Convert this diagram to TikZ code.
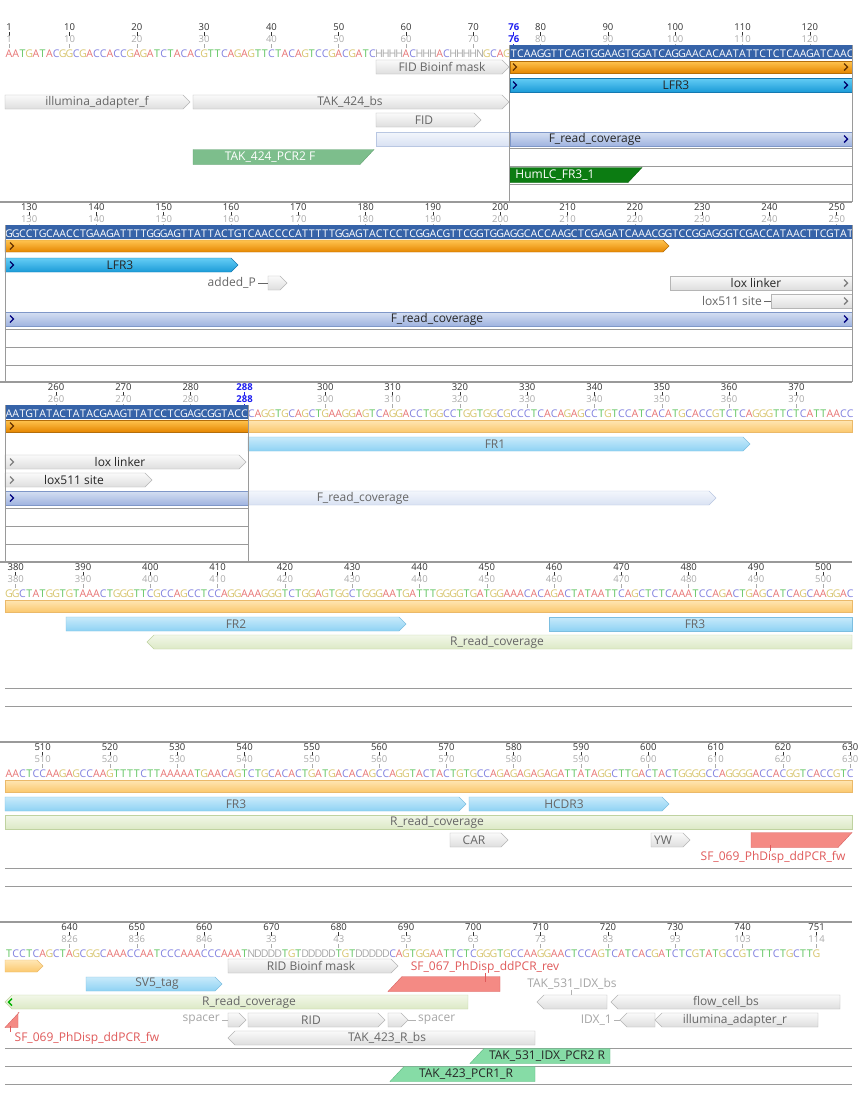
\documentclass[tikz,border=0pt]{standalone}
\usepackage{fontspec}
\setmainfont{Open Sans}
\definecolor{bA}{HTML}{E87474}
\definecolor{bT}{HTML}{5EC45E}
\definecolor{bC}{HTML}{8282E0}
\definecolor{bG}{HTML}{D8C670}
\definecolor{bN}{HTML}{A8A8A8}
\definecolor{selblue}{HTML}{3663A8}
\definecolor{rulnum}{HTML}{333333}
\definecolor{rultwo}{HTML}{AAAAAA}
\definecolor{markblue}{HTML}{1E1EF0}
\definecolor{grline}{HTML}{9A9A9A}
\definecolor{labgray}{HTML}{666666}
\definecolor{redlab}{HTML}{E05A5A}
\newcount\seqk
\def\seqmode{0}
\def\basecol#1{\ifnum\seqmode=1 \def\bc{white}\else
 \if A#1\def\bc{bA}\else\if T#1\def\bc{bT}\else\if C#1\def\bc{bC}\else\if G#1\def\bc{bG}\else\def\bc{bN}\fi\fi\fi\fi\fi}
\def\seqchar#1{\basecol{#1}\node[seqch,text=\bc] at ({9+6.73*\the\seqk},\seqy) {#1};}
\def\seqloop#1{\ifx#1\relax\else\seqchar{#1}\advance\seqk by 1\relax\expandafter\seqloop\fi}
\newcommand\putseq[4]{\seqk=#1\relax\def\seqy{#2}\def\seqmode{#3}\seqloop#4\relax}
% shapes
\newcommand\fR[4]{\path[#4] (#1,#3-7) -- ({#2-7},#3-7) -- (#2,#3) -- ({#2-7},#3+7) -- (#1,#3+7) -- cycle;}
\newcommand\fL[4]{\path[#4] (#1,#3) -- ({#1+7},#3-7) -- (#2,#3-7) -- (#2,#3+7) -- ({#1+7},#3+7) -- cycle;}
\newcommand\fF[4]{\path[#4] (#1,#3-7) rectangle (#2,#3+7);}
\newcommand\oR[4]{\path[#4] (#1,#3-6) -- ({#2-6},#3-6) -- (#2,#3) -- ({#2-6},#3+6) -- (#1,#3+6) -- cycle;}
\newcommand\oF[4]{\path[#4] (#1,#3-6) rectangle (#2,#3+6);}
\newcommand\pF[4]{\path[#4] (#1,#3-7.5) -- (#2,#3-7.5) -- ({#2-14},#3+7.5) -- (#1,#3+7.5) -- cycle;}
\newcommand\pR[4]{\path[#4] ({#1+14},#3-7.5) -- (#2,#3-7.5) -- (#2,#3+7.5) -- (#1,#3+7.5) -- cycle;}
\newcommand\chev[3]{\draw[#3,line width=1.4] ({#1-2},#2-3.5) -- ({#1+1.5},#2) -- ({#1-2},#2+3.5);}
\newcommand\chevl[3]{\draw[#3,line width=1.4] ({#1+2},#2-3.5) -- ({#1-1.5},#2) -- ({#1+2},#2+3.5);}
\tikzset{
 seqch/.style={font=\fontsize{10.6}{10}\selectfont, inner sep=0, anchor=base},
 rtop/.style={font=\fontsize{9.5}{10}\selectfont, text=rulnum, inner sep=0},
 rsec/.style={font=\fontsize{9.5}{10}\selectfont, text=rultwo, inner sep=0},
 flab/.style={font=\fontsize{12}{13}\selectfont, text=black!85, inner sep=0},
 glab/.style={font=\fontsize{12}{13}\selectfont, text=labgray, inner sep=0},
 rlab/.style={font=\fontsize{12}{13}\selectfont, text=redlab, inner sep=0},
 wlab/.style={font=\fontsize{12}{13}\selectfont, text=white, inner sep=0},
 orsel/.style={top color={rgb,255:red,255;green,196;blue,80}, bottom color={rgb,255:red,230;green,135;blue,0}, draw={rgb,255:red,180;green,110;blue,10}},
 orpale/.style={top color={rgb,255:red,255;green,230;blue,180}, bottom color={rgb,255:red,251;green,200;blue,110}, draw={rgb,255:red,235;green,185;blue,105}},
 blsel/.style={top color={rgb,255:red,100;green,205;blue,245}, bottom color={rgb,255:red,27;green,155;blue,216}, draw={rgb,255:red,20;green,120;blue,176}},
 blpale/.style={top color={rgb,255:red,200;green,234;blue,250}, bottom color={rgb,255:red,142;green,210;blue,243}, draw={rgb,255:red,124;green,190;blue,224}},
 fcov/.style={top color={rgb,255:red,243;green,246;blue,252}, bottom color={rgb,255:red,217;green,226;blue,243}, draw={rgb,255:red,185;green,199;blue,226}},
 fcovsel/.style={top color={rgb,255:red,213;green,223;blue,242}, bottom color={rgb,255:red,160;green,180;blue,224}, draw={rgb,255:red,127;green,151;blue,200}},
 rcov/.style={top color={rgb,255:red,242;green,247;blue,232}, bottom color={rgb,255:red,220;green,233;blue,198}, draw={rgb,255:red,191;green,210;blue,160}},
 gfeat/.style={top color={rgb,255:red,250;green,250;blue,250}, bottom color={rgb,255:red,222;green,222;blue,222}, draw={rgb,255:red,181;green,181;blue,181}},
 gsel/.style={top color={rgb,255:red,236;green,236;blue,236}, bottom color={rgb,255:red,196;green,196;blue,196}, draw={rgb,255:red,150;green,150;blue,150}},
 pgreen/.style={fill={rgb,255:red,125;green,190;blue,140}, draw={rgb,255:red,95;green,160;blue,110}},
 pmint/.style={fill={rgb,255:red,134;green,220;blue,166}, draw={rgb,255:red,92;green,184;blue,128}},
 pdark/.style={fill={rgb,255:red,12;green,124;blue,18}, draw={rgb,255:red,6;green,96;blue,10}},
 pred/.style={fill={rgb,255:red,244;green,138;blue,132}, draw={rgb,255:red,216;green,96;blue,96}},
 trk/.style={draw=grline, line width=0.6},
 sep/.style={draw=grline, line width=1.2},
 lead/.style={draw=labgray, line width=0.6},
}
\begin{document}
\begin{tikzpicture}[x=1pt,y=-1pt]
\path[fill=white] (0,0) rectangle (859,1120);
\useasboundingbox (0,0) rectangle (859,1120);
% ---------- rulers ----------
\newcommand\rulerA[3]{% #1 y0, #2 p0, #3 list p/q
 \foreach \p/\q in {#3} {
  \node[rtop] at ({9+6.73*(\p-#2)},#1+5) {\p};
  \draw[rulnum,line width=0.6] ({9+6.73*(\p-#2)},#1+10) -- ({9+6.73*(\p-#2)},#1+14);
  \node[rsec] at ({9+6.73*(\p-#2)},#1+17) {\q};
  \draw[rultwo,line width=0.6] ({9+6.73*(\p-#2)},#1+22) -- ({9+6.73*(\p-#2)},#1+26);
 }}
\newcommand\rulerM[3]{% marker in blue
  \node[rtop,text=markblue,font=\fontsize{9.5}{10}\selectfont\bfseries] at ({9+6.73*(#3-#2)},#1+5) {#3};
  \draw[markblue,line width=0.6] ({9+6.73*(#3-#2)},#1+10) -- ({9+6.73*(#3-#2)},#1+14);
  \node[rsec,text=markblue,font=\fontsize{9.5}{10}\selectfont\bfseries] at ({9+6.73*(#3-#2)},#1+17) {#3};
  \draw[markblue,line width=0.6] ({9+6.73*(#3-#2)},#1+22) -- ({9+6.73*(#3-#2)},#1+26);}
\rulerA{22}{1}{1/1,10/10,20/20,30/30,40/40,50/50,60/60,70/70,80/80,90/90,100/100,110/110,120/120}
\rulerM{22}{1}{76}
\rulerA{202}{127}{130/130,140/140,150/150,160/160,170/170,180/180,190/190,200/200,210/210,220/220,230/230,240/240,250/250}
\rulerA{382}{253}{260/260,270/270,280/280,300/300,310/310,320/320,330/330,340/340,350/350,360/360,370/370}
\rulerM{382}{253}{288}
\rulerA{562}{379}{380/380,390/390,400/400,410/410,420/420,430/430,440/440,450/450,460/460,470/470,480/480,490/490,500/500}
\rulerA{742}{505}{510/510,520/520,530/530,540/540,550/550,560/560,570/570,580/580,590/590,600/600,610/610,620/620,630/630}
\rulerA{922}{631}{640/826,650/836,660/846,670/33,680/43,690/53,700/63,710/73,720/83,730/93,740/103,751/114}
% ---------- row separators ----------
\foreach \yy in {202,382,562,742,922} {\draw[sep] (0,\yy) -- (852,\yy);}
% ---------- highlight bands ----------
\fill[selblue] (510,45) rectangle (852,59);
\fill[selblue] (5,225) rectangle (852,239);
\fill[selblue] (5,405) rectangle (248,419);
% ---------- sequences ----------
\putseq{0}{57}{0}{AATGATACGGCGACCACCGAGATCTACACGTTCAGAGTTCTACAGTCCGACGATCHHHHACHHHACHHHHNGCAG}
\putseq{75}{57}{1}{TCAAGGTTCAGTGGAAGTGGATCAGGAACACAATATTCTCTCAAGATCAAC}
\putseq{0}{237}{1}{GGCCTGCAACCTGAAGATTTTGGGAGTTATTACTGTCAACCCCATTTTTGGAGTACTCCTCGGACGTTCGGTGGAGGCACCAAGCTCGAGATCAAACGGTCCGGAGGGTCGACCATAACTTCGTAT}
\putseq{0}{417}{1}{AATGTATACTATACGAAGTTATCCTCGAGCGGTACC}
\putseq{36}{417}{0}{CAGGTGCAGCTGAAGGAGTCAGGACCTGGCCTGGTGGCGCCCTCACAGAGCCTGTCCATCACATGCACCGTCTCAGGGTTCTCATTAACC}
\putseq{0}{597}{0}{GGCTATGGTGTAAACTGGGTTCGCCAGCCTCCAGGAAAGGGTCTGGAGTGGCTGGGAATGATTTGGGGTGATGGAAACACAGACTATAATTCAGCTCTCAAATCCAGACTGAGCATCAGCAAGGAC}
\putseq{0}{777}{0}{AACTCCAAGAGCCAAGTTTTCTTAAAAATGAACAGTCTGCACACTGATGACACAGCCAGGTACTACTGTGCCAGAGAGAGAGATTATAGGCTTGACTACTGGGGCCAGGGGACCACGGTCACCGTC}
\putseq{0}{957}{0}{TCCTCAGCTAGCGGCAAACCAATCCCAAACCCAAATNDDDDTGTDDDDDTGTDDDDDCAGTGGAATTCTCGGGTGCCAAGGAACTCCAGTCATCACGATCTCGTATGCCGTCTTCTGCTTG}
% ================= ROW 1 =================
\foreach \yy in {148,166,184} {\draw[trk] (509,\yy) -- (852,\yy);}
\fR{376}{509}{67}{gfeat}\node[glab] (fidmask) at (442,67) {FID Bioinf mask};
\oF{510}{852}{67}{orsel}\chev{515}{67}{black!60!orange}\chev{846}{67}{black!60!orange}
\fF{510}{852}{85}{blsel}\chev{515}{85}{black!60!blue}\chev{846}{85}{black!60!blue}\node[flab] (lfr3a) at (676,85) {LFR3};
\fR{5}{190}{102}{gfeat}\node[glab] (illf) at (97,102) {illumina\_adapter\_f};
\fR{193}{509}{102}{gfeat}\node[glab] (tak424bs) at (350,102) {TAK\_424\_bs};
\fR{376}{481}{120}{gfeat}\node[glab] (fid) at (424,120) {FID};
\fF{376}{510}{139}{fcov}\fF{510}{852}{139}{fcovsel}\chev{846}{139}{black!50!blue}\node[flab] (frc1) at (595,139) {F\_read\_coverage};
\pF{193}{374}{157}{pgreen}\node[wlab] (pcr2f) at (270,157) {TAK\_424\_PCR2 F};
\pF{510}{642}{175}{pdark}\node[wlab] (humlc) at (555,175) {HumLC\_FR3\_1};
\draw[trk,line width=0.8] (509.5,45) -- (509.5,202);
\draw[trk,line width=0.8] (852,45) -- (852,202);
% ================= ROW 2 =================
\foreach \yy in {329,347,365} {\draw[trk] (5,\yy) -- (852,\yy);}
\oR{5}{669}{246}{orsel}\chev{12}{246}{black!60!orange}
\fR{5}{238}{265}{blsel}\chev{12}{265}{black!60!blue}\node[flab] (lfr3b) at (120,265) {LFR3};
\fR{268}{287}{283}{gfeat}\node[glab,anchor=east] (addp) at (256,283) {added\_P};
\draw[lead] (addp.east) ++(2,0) -- (268,283);
\fF{670}{852}{283}{gfeat}\chev{846}{283}{black!50}\node[flab] (loxl1) at (756,283) {lox linker};
\fF{771}{852}{301}{gfeat}\chev{846}{301}{black!50}\node[glab,anchor=east] (lox5a) at (762,301) {lox511 site};
\draw[lead] (lox5a.east) ++(2,0) -- (771,301);
\fF{5}{852}{319}{fcovsel}\chev{12}{319}{black!50!blue}\chev{846}{319}{black!50!blue}\node[flab] (frc2) at (437,319) {F\_read\_coverage};
\draw[trk,line width=0.8] (5,225) -- (5,382);
\draw[trk,line width=0.8] (852,225) -- (852,382);
% ================= ROW 3 =================
\foreach \yy in {508,526,544} {\draw[trk] (5,\yy) -- (248,\yy);}
\oF{5}{248}{426}{orsel}\oF{248}{852}{426}{orpale}\chev{12}{426}{black!60!orange}
\fR{248}{750}{444}{blpale}\node[glab] (fr1) at (495,444) {FR1};
\fR{5}{246}{462}{gfeat}\chev{12}{462}{black!50}\node[flab] (loxl2) at (120,462) {lox linker};
\fR{5}{152}{480}{gfeat}\chev{12}{480}{black!50}\node[flab] (lox5b) at (74,480) {lox511 site};
\fF{5}{248}{498}{fcovsel}\fR{248}{716}{498}{fcov}\chev{12}{498}{black!50!blue}\node[glab] (frc3) at (363,498) {F\_read\_coverage};
\draw[trk,line width=0.8] (5,405) -- (5,562);
\draw[trk,line width=0.8] (248,405) -- (248,562);
% ================= ROW 4 =================
\foreach \yy in {688,706} {\draw[trk] (5,\yy) -- (852,\yy);}
\oF{5}{852}{606}{orpale}
\fR{66}{406}{624}{blpale}\node[glab] (fr2) at (236,624) {FR2};
\fF{549}{852}{624}{blpale}\node[glab] (fr3a) at (695,624) {FR3};
\fL{147}{852}{642}{rcov}\node[glab] (rrc4) at (497,642) {R\_read\_coverage};
% ================= ROW 5 =================
\foreach \yy in {868,886} {\draw[trk] (5,\yy) -- (852,\yy);}
\oF{5}{852}{786}{orpale}
\fR{5}{466}{804}{blpale}\node[glab] (fr3b) at (236,804) {FR3};
\fR{469}{669}{804}{blpale}\node[glab] (hcdr3) at (564,804) {HCDR3};
\fF{5}{852}{822}{rcov}\node[glab] (rrc5) at (437,822) {R\_read\_coverage};
\fR{450}{508}{840}{gfeat}\node[glab] (car) at (474,840) {CAR};
\fR{651}{690}{840}{gfeat}\node[glab] (yw) at (663,840) {YW};
\pF{751}{852}{840}{pred}
\node[rlab] (sf069a) at (773,857) {SF\_069\_PhDisp\_ddPCR\_fw};
\draw[redlab,line width=0.6] (770,845) -- (sf069a.north -| 770,0);
% ================= ROW 6 =================
\foreach \yy in {1048,1066,1084} {\draw[trk] (5,\yy) -- (852,\yy);}
\oR{5}{43}{966}{orpale}
\fR{228}{398}{966}{gfeat}\node[glab] (ridmask) at (311,966) {RID Bioinf mask};
\pR{388}{500}{984}{pred}
\node[rlab] (sf067) at (485,967) {SF\_067\_PhDisp\_ddPCR\_rev};
\draw[redlab,line width=0.6] (sf067.south -| 485,0) -- (485,982);
\fR{86}{222}{984}{blpale}\node[glab] (sv5) at (157,984) {SV5\_tag};
\node[glab,text=black!35] (tak531bs) at (572,984) {TAK\_531\_IDX\_bs};
\draw[lead,draw=black!30] (tak531bs.south -| 571,0) -- (571,996);
\fL{537}{607}{1002}{gfeat}
\fL{611}{840}{1002}{gfeat}\node[glab] (flow) at (726,1002) {flow\_cell\_bs};
\fL{5}{468}{1002}{rcov}\chevl{10}{1002}{black!30!green}\node[glab] (rrc6) at (249,1002) {R\_read\_coverage};
\fR{228}{246}{1020}{gfeat}\node[glab,text=black!35,anchor=east] (sp1) at (220,1020) {spacer};
\draw[lead,draw=black!30] (sp1.east) ++(2,0) -- (228,1020);
\fR{248}{385}{1020}{gfeat}\node[glab] (rid) at (311,1020) {RID};
\fR{388}{408}{1020}{gfeat}\node[glab,text=black!35,anchor=west] (sp2) at (418,1020) {spacer};
\draw[lead,draw=black!30] (408,1020) -- ([xshift=-2pt]sp2.west);
\fL{620}{655}{1020}{gfeat}\node[glab,text=black!35,anchor=east] (idx1) at (612,1020) {IDX\_1};
\draw[lead,draw=black!30] (idx1.east) ++(2,0) -- (620,1020);
\fL{655}{818}{1020}{gfeat}\node[glab] (illr) at (735,1020) {illumina\_adapter\_r};
\pR{5}{18}{1020}{pred}
\node[rlab] (sf069b) at (87,1038) {SF\_069\_PhDisp\_ddPCR\_fw};
\draw[redlab,line width=0.6] (10,1026) -- (sf069b.north -| 10,0);
\fL{228}{535}{1038}{gfeat}\node[glab] (tak423bs) at (387,1038) {TAK\_423\_R\_bs};
\pR{470}{610}{1056}{pmint}\node[flab] (tak531) at (547,1056) {TAK\_531\_IDX\_PCR2 R};
\pR{390}{535}{1074}{pmint}\node[flab] (tak423) at (466,1074) {TAK\_423\_PCR1\_R};
\end{tikzpicture}
\end{document}
